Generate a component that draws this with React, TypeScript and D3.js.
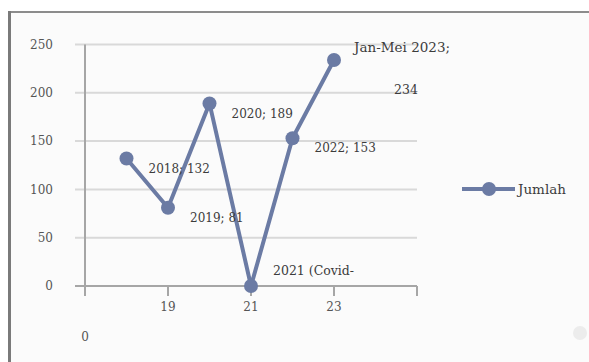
import React from "react";
import * as d3 from "d3";

// Annual totals ("Jumlah"); 2023 covers January–May only
const years = [18, 19, 20, 21, 22, 23];
const values = [132, 81, 189, 0, 153, 234];
const pointLabels = [
  ["2018; 132"],
  ["2019; 81"],
  ["2020; 189"],
  ["2021 (Covid-"],
  ["2022; 153"],
  ["Jan-Mei 2023;", "234"],
];
const yTicks = [0, 50, 100, 150, 200, 250];
const xTicks = [17, 19, 21, 23, 25];
const xTickLabels = ["", "19", "21", "23", ""];
const seriesName = "Jumlah";

const W = 589;
const H = 362;
const FONT = "'DejaVu Serif', serif";
const LINE = "#6b7ba4";
const TEXT = "#3c3c3c";
const AXIS_TEXT = "#555";

export default function App() {
  const x = d3.scaleLinear().domain([17, 25]).range([85, 417]);
  const y = d3.scaleLinear().domain([0, 250]).range([286, 44.5]);
  const line = d3
    .line<number>()
    .x((_, i) => x(years[i]))
    .y((v) => y(v));

  return (
    <svg
      width={W}
      height={H}
      style={{ position: "absolute", left: 0, top: 0, background: "#fff" }}
    >
      {/* chart frame */}
      <rect x={9} y={12} width={W} height={H} fill="#fbfbfb" />
      <line x1={8} x2={W} y1={12} y2={12} stroke="#8c8c8c" strokeWidth={2} />
      <line x1={9.5} x2={9.5} y1={11} y2={H} stroke="#7a7a7a" strokeWidth={3} />
      <circle cx={580} cy={333} r={7} fill="#ececec" />

      {/* gridlines */}
      {yTicks.map((t) => (
        <line
          key={"g" + t}
          x1={75}
          x2={417}
          y1={y(t)}
          y2={y(t)}
          stroke={t === 0 ? "#a6a6a6" : "#d9d9d9"}
          strokeWidth={2}
        />
      ))}
      {/* value axis */}
      <line x1={85} x2={85} y1={y(250)} y2={296} stroke="#a6a6a6" strokeWidth={2} />
      {yTicks.map((t) => (
        <text
          key={"yl" + t}
          x={53}
          y={y(t)}
          dy="0.35em"
          textAnchor="end"
          fontFamily={FONT}
          fontSize={12}
          fill={AXIS_TEXT}
        >
          {t}
        </text>
      ))}
      {/* category axis ticks */}
      {xTicks.map((t, i) => (
        <g key={"xt" + t}>
          <line x1={x(t)} x2={x(t)} y1={y(0)} y2={296} stroke="#a6a6a6" strokeWidth={2} />
          <text
            x={x(t)}
            y={307}
            dy="0.35em"
            textAnchor="middle"
            fontFamily={FONT}
            fontSize={12}
            fill={AXIS_TEXT}
          >
            {xTickLabels[i]}
          </text>
        </g>
      ))}
      <text x={85} y={337} dy="0.35em" textAnchor="middle" fontFamily={FONT} fontSize={12} fill={AXIS_TEXT}>
        0
      </text>

      {/* series */}
      <path d={line(values) || ""} fill="none" stroke={LINE} strokeWidth={4} strokeLinejoin="round" />
      {values.map((v, i) => (
        <circle key={"p" + i} cx={x(years[i])} cy={y(v)} r={7} fill={LINE} />
      ))}

      {/* data labels */}
      {values.map((v, i) => {
        const px = x(years[i]);
        const py = y(v);
        const lines = pointLabels[i];
        if (lines.length > 1) {
          return (
            <g key={"dl" + i} fontFamily={FONT} fill={TEXT}>
              <text x={px + 20} y={py - 13} dy="0.35em" fontSize={13.5}>{lines[0]}</text>
              <text x={px + 60} y={py + 30} dy="0.35em" fontSize={12.5}>{lines[1]}</text>
            </g>
          );
        }
        const dy = v === 0 ? -15 : 10;
        return (
          <text
            key={"dl" + i}
            x={px + 22}
            y={py + dy}
            dy="0.35em"
            fontFamily={FONT}
            fontSize={v === 0 ? 12.5 : 12}
            fill={TEXT}
          >
            {lines[0]}
          </text>
        );
      })}

      {/* legend */}
      <line x1={462} x2={515} y1={189} y2={189} stroke={LINE} strokeWidth={4} />
      <circle cx={489} cy={189} r={7} fill={LINE} />
      <text x={518} y={189} dy="0.35em" fontFamily={FONT} fontSize={13.5} fill={TEXT}>
        {seriesName}
      </text>
    </svg>
  );
}
